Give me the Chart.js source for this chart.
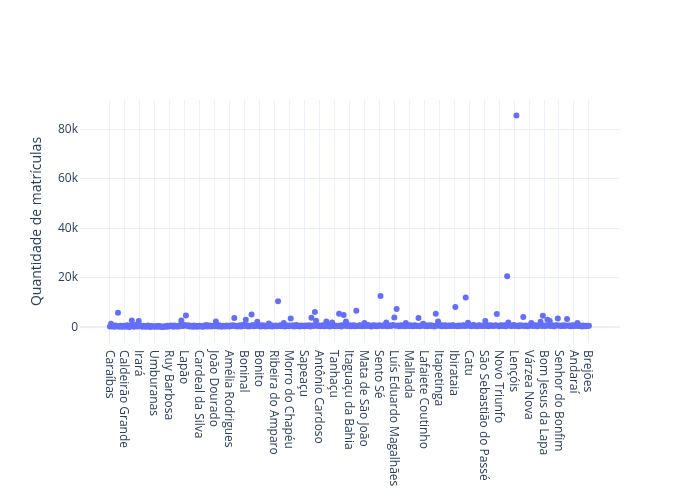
<!DOCTYPE html>
<html>
<head>
<meta charset="utf-8">
<script src="https://cdn.jsdelivr.net/npm/chart.js@4/dist/chart.umd.min.js"></script>
<style>
html,body{margin:0;padding:0;background:#fff;}
#wrap{width:700px;height:500px;}
</style>
</head>
<body>
<div id="wrap"><canvas id="c" width="700" height="500"></canvas></div>
<script>
// Tick labels shown on the category axis (every 13th municipality)
const tickLabels = ["Caraíbas","Caldeirão Grande","Irará","Umburanas","Ruy Barbosa","Lapão","Cardeal da Silva","João Dourado","Amélia Rodrigues","Boninal","Bonito","Ribeira do Amparo","Morro do Chapéu","Sapeaçu","Antônio Cardoso","Tanhaçu","Itaguaçu da Bahia","Mata de São João","Sento Sé","Luís Eduardo Magalhães","Malhada","Lafaiete Coutinho","Itapetinga","Ibirataia","Catu","São Sebastião do Passé","Novo Triunfo","Lençóis","Várzea Nova","Bom Jesus da Lapa","Senhor do Bonfim","Andaraí","Brejões"];
const tickStep = 13;

// Quantidade de matrículas per municipality (417 values, in axis order)
const matriculas = [
 380,1500,320,590,250,790,460,5900,270,710,410,230,620,
 520,310,870,410,200,670,2800,460,290,980,560,370,2600,
 830,430,270,640,500,230,340,740,410,190,550,320,460,
 260,370,530,210,610,280,410,170,340,490,230,690,380,
 430,740,590,280,790,500,340,650,380,850,2800,530,700,
 920,4800,550,820,370,650,450,290,730,410,560,310,520,
 700,380,500,250,760,430,920,350,580,800,410,530,670,
 460,2400,620,380,880,520,310,710,560,410,810,470,650,
 370,760,530,910,3800,440,680,340,590,850,410,640,1040,
 530,3100,830,400,700,490,5200,950,440,620,760,2300,560,
 670,410,860,520,750,350,610,460,1600,500,820,370,690,
 550,770,430,10600,640,890,500,710,1800,380,610,810,470,
 740,3600,580,850,410,670,940,490,620,400,770,550,710,
 440,800,640,530,870,370,3900,730,590,6200,2700,680,520,
 770,430,630,830,500,700,2400,560,880,410,730,2000,610,
 800,470,680,580,5500,750,410,850,5000,640,2400,530,710,
 910,500,740,580,830,430,6700,660,530,880,610,460,790,
 1800,560,690,940,520,730,410,650,860,580,760,490,680,
 830,12700,530,730,610,880,2000,470,700,800,550,740,930,
 4000,640,7400,770,500,710,850,580,810,430,1800,670,760,
 530,820,620,460,740,890,550,690,3800,490,770,640,1500,
 710,560,820,470,670,870,520,740,610,410,5500,790,2400,
 640,920,500,760,580,830,430,700,620,790,520,730,890,
 550,8200,690,470,800,640,530,760,860,610,12100,700,1900,
 650,820,500,730,940,560,670,460,770,870,530,710,610,
 800,2600,580,730,470,890,640,770,550,700,830,5400,620,
 490,750,880,580,680,830,440,20600,2000,650,790,520,730,
 920,590,85500,700,500,820,630,740,4200,550,770,670,460,
 710,860,1800,570,760,650,820,490,690,890,2300,610,4700,
 790,520,720,3100,640,2600,560,830,670,470,750,880,3600,
 620,770,520,700,910,560,730,3400,650,800,460,690,850,
 580,740,640,1800,530,790,680,410,760,610,500,710,560,
 660
];
const yTicks = [0, 20000, 40000, 60000, 80000];

const points = matriculas.map((v, i) => ({x: i, y: v}));
const FONT = '"Open Sans", "DejaVu Sans", sans-serif';
const TXT = '#2a3f5f';
const GRID = '#EBF0F8';

const xLabelPlugin = {
  id: 'xLabels',
  afterDraw(chart) {
    const sc = chart.scales.x;
    const ctx = chart.ctx;
    ctx.save();
    ctx.font = '12px ' + FONT;
    ctx.fillStyle = TXT;
    ctx.textAlign = 'left';
    ctx.textBaseline = 'middle';
    tickLabels.forEach((lab, k) => {
      const px = sc.getPixelForValue(k * tickStep);
      ctx.save();
      ctx.translate(px - 1, chart.chartArea.bottom + 7);
      ctx.rotate(Math.PI / 2);
      ctx.fillText(lab, 0, 0);
      ctx.restore();
    });
    ctx.restore();
  }
};

new Chart(document.getElementById('c'), {
  type: 'scatter',
  data: {
    datasets: [{
      data: points,
      backgroundColor: '#636efa',
      borderWidth: 0,
      pointRadius: 3,
      pointHoverRadius: 3
    }]
  },
  options: {
    responsive: false,
    animation: false,
    devicePixelRatio: 1,
    events: [],
    layout: {padding: {left: 0, right: 80, top: 100, bottom: 0}},
    plugins: {legend: {display: false}, tooltip: {enabled: false}},
    scales: {
      x: {
        type: 'linear',
        min: -26,
        max: 443,
        afterBuildTicks(scale) {
          scale.ticks = tickLabels.map((_, k) => ({value: k * tickStep}));
        },
        afterFit(scale) { scale.height = 157; },
        ticks: {display: false},
        grid: {color: GRID, lineWidth: 1, drawTicks: false},
        border: {display: false}
      },
      y: {
        type: 'linear',
        min: -6300,
        max: 91800,
        afterBuildTicks(scale) {
          scale.ticks = yTicks.map(v => ({value: v}));
        },
        afterFit(scale) { scale.width = 80; },
        ticks: {
          padding: 2,
          color: TXT,
          font: {family: FONT, size: 12},
          callback: v => v === 0 ? '0' : (v / 1000) + 'k'
        },
        grid: {
          color: GRID,
          lineWidth: c => (c.tick && c.tick.value === 0) ? 2 : 1,
          drawTicks: false
        },
        border: {display: false},
        title: {
          display: true,
          text: 'Quantidade de matrículas',
          color: TXT,
          font: {family: FONT, size: 14},
          padding: {top: 29, bottom: 0}
        }
      }
    }
  },
  plugins: [xLabelPlugin]
});
</script>
</body>
</html>
